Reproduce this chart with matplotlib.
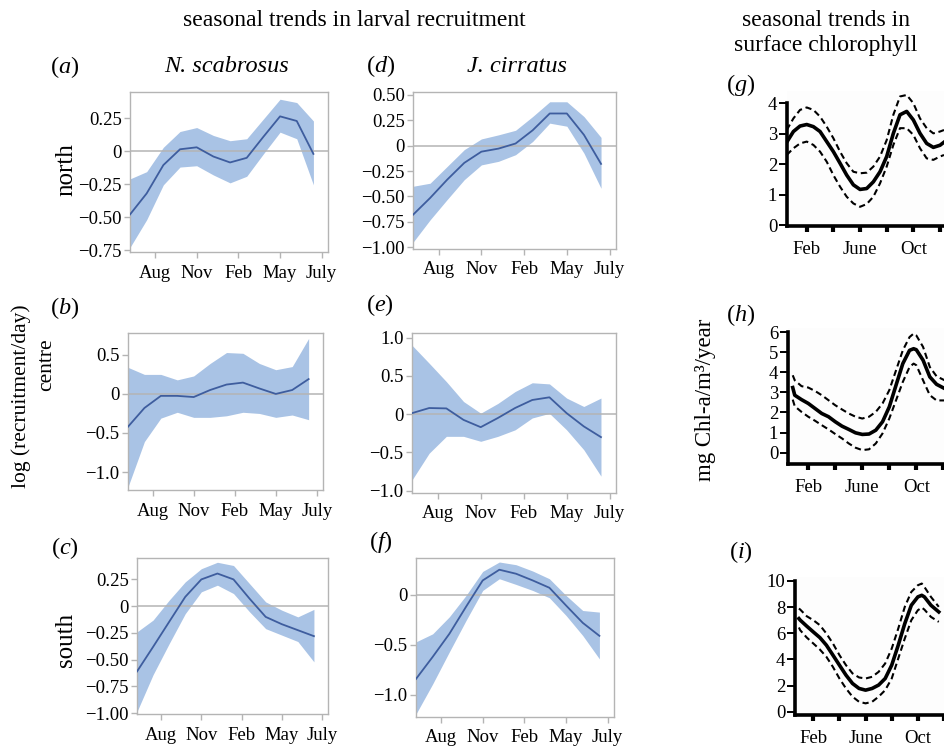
import numpy as np
import matplotlib
matplotlib.use('Agg')
import matplotlib.pyplot as plt

plt.rcParams['font.family'] = ['Liberation Serif', 'DejaVu Serif']
plt.rcParams['mathtext.fontset'] = 'custom'
plt.rcParams['mathtext.rm'] = 'Liberation Serif'
plt.rcParams['mathtext.it'] = 'Liberation Serif:italic'

W, H = 944, 749

# recruitment panels: common x positions (tick units, Aug = 0 ... July = 4)
months_rec = ['Aug', 'Nov', 'Feb', 'May', 'July']
x_rec = [-0.6, -0.2, 0.2, 0.6, 1.0, 1.4, 1.8, 2.2, 2.6, 3.0, 3.4, 3.8]

# (a) N. scabrosus north
a_mid = [-0.48, -0.32, -0.105, 0.015, 0.03, -0.04, -0.085, -0.05, 0.11, 0.265, 0.23, -0.02]
a_hi = [-0.21, -0.155, 0.03, 0.15, 0.18, 0.12, 0.08, 0.095, 0.245, 0.395, 0.37, 0.23]
a_lo = [-0.73, -0.52, -0.255, -0.12, -0.11, -0.18, -0.24, -0.19, -0.02, 0.145, 0.095, -0.255]

# (b) N. scabrosus centre
b_mid = [-0.42, -0.18, -0.025, -0.025, -0.04, 0.05, 0.12, 0.145, 0.07, 0.0, 0.05, 0.19]
b_hi = [0.34, 0.25, 0.25, 0.18, 0.23, 0.39, 0.53, 0.52, 0.39, 0.31, 0.35, 0.71]
b_lo = [-1.19, -0.61, -0.31, -0.235, -0.30, -0.30, -0.28, -0.235, -0.25, -0.30, -0.27, -0.33]

# (c) N. scabrosus south
c_mid = [-0.61, -0.38, -0.146, 0.087, 0.25, 0.305, 0.25, 0.07, -0.10, -0.168, -0.224, -0.28]
c_hi = [-0.24, -0.13, 0.056, 0.227, 0.35, 0.41, 0.38, 0.21, 0.04, -0.037, -0.10, -0.03]
c_lo = [-0.985, -0.64, -0.35, -0.07, 0.134, 0.196, 0.118, -0.053, -0.21, -0.27, -0.33, -0.52]

# (d) J. cirratus north
d_mid = [-0.68, -0.515, -0.335, -0.17, -0.06, -0.03, 0.02, 0.15, 0.315, 0.315, 0.105, -0.18]
d_hi = [-0.40, -0.37, -0.205, -0.04, 0.065, 0.105, 0.15, 0.285, 0.43, 0.43, 0.285, 0.08]
d_lo = [-0.95, -0.73, -0.53, -0.335, -0.19, -0.155, -0.09, 0.04, 0.22, 0.19, -0.075, -0.42]

# (e) J. cirratus centre
e_mid = [0.013, 0.08, 0.075, -0.075, -0.17, -0.05, 0.08, 0.185, 0.22, 0.013, -0.16, -0.30]
e_hi = [0.90, 0.665, 0.425, 0.165, 0.013, 0.14, 0.295, 0.41, 0.395, 0.21, 0.10, 0.21]
e_lo = [-0.86, -0.51, -0.29, -0.29, -0.355, -0.29, -0.205, -0.05, 0.01, -0.205, -0.465, -0.81]

# (f) J. cirratus south
f_mid = [-0.84, -0.62, -0.39, -0.12, 0.143, 0.25, 0.21, 0.143, 0.07, -0.107, -0.28, -0.41]
f_hi = [-0.47, -0.39, -0.22, -0.007, 0.233, 0.327, 0.30, 0.237, 0.16, -0.007, -0.157, -0.173]
f_lo = [-1.19, -0.89, -0.57, -0.257, 0.043, 0.16, 0.103, 0.043, -0.03, -0.207, -0.407, -0.64]

# chlorophyll panels (x in months, Feb = 2)
months_chl = ['Feb', '', 'June', '', 'Oct', '']

g_x = [0.5, 1, 1.5, 2, 2.5, 3, 3.5, 4, 4.5, 5, 5.5, 6, 6.5, 7, 7.5, 8, 8.5, 9, 9.5, 10, 10.5, 11, 11.5, 12, 12.3]
g_mid = [2.72, 3.07, 3.25, 3.30, 3.23, 3.07, 2.74, 2.41, 2.03, 1.64, 1.32, 1.17, 1.2, 1.42, 1.75, 2.25,
         3.01, 3.62, 3.73, 3.45, 3.01, 2.68, 2.55, 2.62, 2.72]
g_hi = [3.12, 3.5, 3.78, 3.86, 3.78, 3.56, 3.23, 2.85, 2.41, 2.03, 1.75, 1.70, 1.72, 1.92, 2.25, 2.79,
        3.62, 4.22, 4.27, 4.0, 3.5, 3.18, 3.01, 3.07, 3.12]
g_lo = [2.30, 2.52, 2.68, 2.74, 2.63, 2.41, 2.08, 1.64, 1.26, 0.93, 0.71, 0.60, 0.69, 0.93, 1.37, 1.92,
        2.63, 3.18, 3.18, 2.96, 2.52, 2.19, 2.14, 2.25, 2.30]

h_x = [0.85, 1, 1.5, 2, 2.5, 3, 3.5, 4, 4.5, 5, 5.5, 6, 6.5, 7, 7.5, 8, 8.5, 9, 9.5, 9.8, 10, 10.5, 11, 11.5, 12.1]
h_mid = [3.24, 2.86, 2.64, 2.45, 2.2, 1.95, 1.79, 1.54, 1.32, 1.16, 0.99, 0.91, 0.93, 1.12, 1.54, 2.28,
         3.36, 4.43, 5.09, 5.17, 5.12, 4.6, 3.77, 3.4, 3.19]
h_hi = [3.85, 3.6, 3.31, 3.24, 3.07, 2.86, 2.61, 2.36, 2.15, 1.95, 1.79, 1.70, 1.79, 2.03, 2.45, 3.11,
        4.1, 5.09, 5.75, 5.92, 5.83, 5.26, 4.26, 3.8, 3.6]
h_lo = [2.64, 2.31, 2.03, 1.79, 1.59, 1.37, 1.16, 0.93, 0.71, 0.46, 0.25, 0.13, 0.17, 0.46, 0.96, 1.70,
        2.61, 3.52, 4.26, 4.43, 4.35, 3.6, 2.86, 2.6, 2.6]

i_x = [0.9, 1, 1.5, 2, 2.5, 3, 3.5, 4, 4.5, 5, 5.5, 6, 6.5, 7, 7.5, 8, 8.5, 9, 9.5, 10, 10.3, 10.5, 11, 11.6]
i_mid = [7.12, 7.0, 6.54, 6.1, 5.67, 5.09, 4.33, 3.56, 2.8, 2.16, 1.78, 1.65, 1.78, 2.04, 2.54, 3.56,
         5.09, 6.74, 8.14, 8.78, 8.9, 8.78, 8.14, 7.63]
i_hi = [7.89, 7.81, 7.3, 7.0, 6.62, 5.98, 5.22, 4.33, 3.56, 2.93, 2.62, 2.54, 2.67, 3.05, 3.69, 4.83,
        6.36, 8.02, 9.16, 9.67, 9.8, 9.54, 8.78, 8.02]
i_lo = [6.44, 6.23, 5.67, 5.22, 4.76, 4.2, 3.43, 2.54, 1.78, 1.15, 0.76, 0.64, 0.76, 1.15, 1.65, 2.54,
        4.07, 5.6, 7.0, 7.76, 7.96, 7.81, 7.25, 6.87]

BAND = '#a9c3e5'
LINE = '#3e5d9e'
GREY = '#b4b4b4'
TICK_FS = 13.5


def px_rect(left, top, right, bottom):
    return [left / W, 1 - bottom / H, (right - left) / W, (bottom - top) / H]


def rec_panel(fig, rect, mid, hi, lo, yticks, ylabels, ylim):
    ax = fig.add_axes(px_rect(*rect))
    ax.fill_between(x_rec, lo, hi, color=BAND, lw=0)
    ax.axhline(0, color=GREY, lw=1.1, zorder=1)
    ax.plot(x_rec, mid, color=LINE, lw=1.3, zorder=3)
    ax.set_xlim(-0.6, 4.15)
    ax.set_ylim(*ylim)
    ax.set_xticks(range(len(months_rec)))
    ax.set_xticklabels(months_rec)
    ax.set_yticks(yticks)
    ax.set_yticklabels(ylabels)
    for s in ax.spines.values():
        s.set_color(GREY)
        s.set_linewidth(1.0)
    ax.tick_params(axis='both', colors=GREY, labelcolor='black', labelsize=TICK_FS, length=4, width=1)
    ax.tick_params(axis='x', pad=5)
    ax.tick_params(axis='y', pad=2)
    return ax


def chl_panel(fig, rect, x, mid, hi, lo, yticks, ylim, xlim):
    ax = fig.add_axes(px_rect(*rect))
    ax.plot(x, hi, color='black', lw=1.5, ls=(0, (3, 1.8)))
    ax.plot(x, lo, color='black', lw=1.5, ls=(0, (3, 1.8)))
    ax.plot(x, mid, color='black', lw=2.6)
    ax.set_xlim(*xlim)
    ax.set_ylim(*ylim)
    ax.set_facecolor('#fdfdfd')
    ax.spines['top'].set_visible(False)
    ax.spines['right'].set_visible(False)
    ax.spines['left'].set_linewidth(2.6)
    ax.spines['bottom'].set_linewidth(2.6)
    ax.spines['left'].set_bounds(ylim[0], yticks[-1])
    ax.set_yticks(yticks)
    ax.set_yticklabels([str(t) for t in yticks])
    ax.set_xticks([2, 4, 6, 8, 10, 12])
    ax.set_xticklabels(months_chl)
    ax.tick_params(axis='x', length=4, width=3, labelsize=TICK_FS, pad=7)
    ax.tick_params(axis='y', length=6, width=1.4, labelsize=TICK_FS, pad=1)
    return ax


fig = plt.figure(figsize=(W / 100, H / 100), dpi=100)

rec_panel(fig, (130, 92, 328, 252), a_mid, a_hi, a_lo,
          [0.25, 0, -0.25, -0.5, -0.75], ['0.25', '0', '\u22120.25', '\u22120.50', '\u22120.75'], (-0.765, 0.45))
rec_panel(fig, (413, 92, 616, 249), d_mid, d_hi, d_lo,
          [0.5, 0.25, 0, -0.25, -0.5, -0.75, -1.0],
          ['0.50', '0.25', '0', '\u22120.25', '\u22120.50', '\u22120.75', '\u22121.00'], (-1.016, 0.526))
rec_panel(fig, (128, 333, 323, 490), b_mid, b_hi, b_lo,
          [0.5, 0, -0.5, -1.0], ['0.5', '0', '\u22120.5', '\u22121.0'], (-1.23, 0.78))
rec_panel(fig, (412, 333, 616, 493), e_mid, e_hi, e_lo,
          [1.0, 0.5, 0, -0.5, -1.0], ['1.0', '0.5', '0', '\u22120.5', '\u22121.0'], (-1.03, 1.06))
rec_panel(fig, (137, 558, 328, 714), c_mid, c_hi, c_lo,
          [0.25, 0, -0.25, -0.5, -0.75, -1.0],
          ['0.25', '0', '\u22120.25', '\u22120.50', '\u22120.75', '\u22121.00'], (-1.007, 0.45))
rec_panel(fig, (416, 558, 614, 717), f_mid, f_hi, f_lo,
          [0, -0.5, -1.0], ['0', '\u22120.5', '\u22121.0'], (-1.22, 0.367))

chl_panel(fig, (787, 91, 944, 226), g_x, g_mid, g_hi, g_lo, [0, 1, 2, 3, 4], (-0.03, 4.4), (0.52, 12.3))
chl_panel(fig, (788, 328, 944, 464), h_x, h_mid, h_hi, h_lo, [0, 1, 2, 3, 4, 5, 6], (-0.56, 6.2), (0.5, 12.05))
chl_panel(fig, (795, 577, 944, 715), i_x, i_mid, i_hi, i_lo, [0, 2, 4, 6, 8, 10], (-0.25, 10.3), (0.6, 11.58))


def txt(x, y, s, **kw):
    fig.text(x / W, 1 - y / H, s, ha='center', va='center', **kw)


txt(354, 20, 'seasonal trends in larval recruitment', fontsize=17)
txt(826, 20, 'seasonal trends in', fontsize=17)
txt(826, 46, 'surface chlorophyll', fontsize=17)

txt(227, 67, 'N. scabrosus', fontsize=17.5, style='italic')
txt(517, 66, 'J. cirratus', fontsize=17.5, style='italic')

for x, y, letter in [(65, 67, 'a'), (381, 66, 'd'), (741, 85, 'g'),
                     (65, 308, 'b'), (380, 305, 'e'), (741, 315, 'h'),
                     (65, 548, 'c'), (381, 542, 'f'), (741, 552, 'i')]:
    txt(x, y, '($\\it{' + letter + '}$)', fontsize=17.5)

txt(66, 170, 'north', fontsize=18, rotation=90)
txt(66, 640, 'south', fontsize=18, rotation=90)
txt(21, 396, 'log (recruitment/day)', fontsize=15.5, rotation=90)
txt(47, 365, 'centre', fontsize=15.5, rotation=90)
txt(705, 400, 'mg Chl-a/m\u00b3/year', fontsize=16.5, rotation=90)

fig.savefig('out.png', dpi=100)
